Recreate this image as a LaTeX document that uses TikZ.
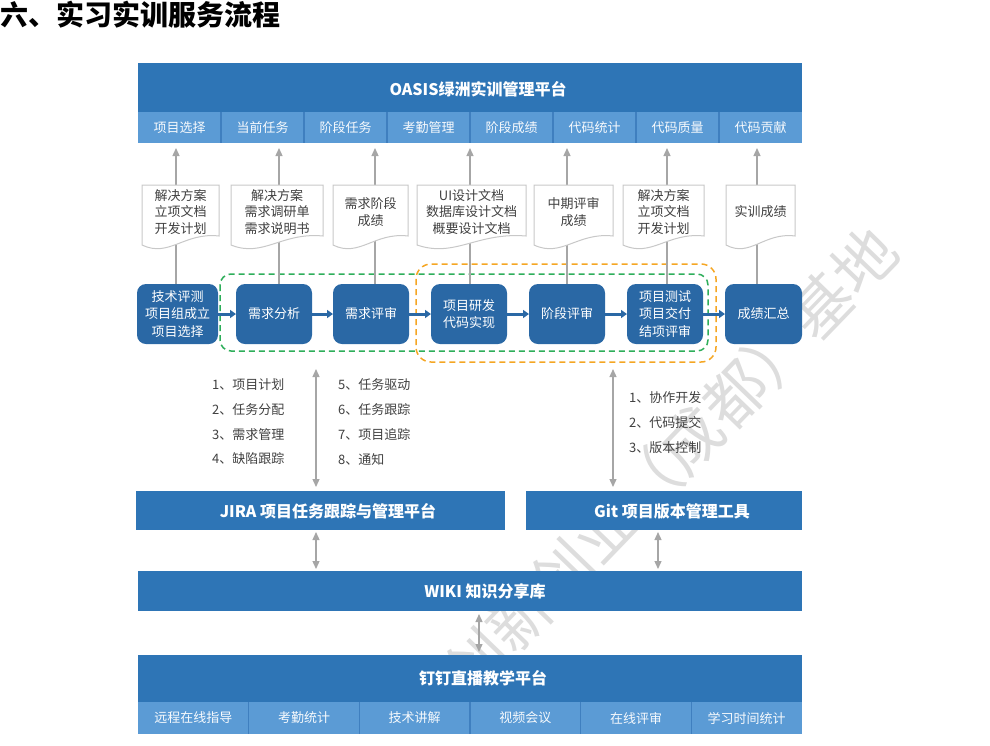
\documentclass[tikz,border=0pt]{standalone}
\usepackage{fontspec}
\setmainfont{Noto Sans CJK SC}
\usetikzlibrary{arrows.meta}
\definecolor{barblue}{HTML}{2E75B6}
\definecolor{lightblue}{HTML}{5B9BD5}
\definecolor{divblue}{HTML}{3F7FBF}
\definecolor{boxblue}{HTML}{2A68A5}
\definecolor{greyline}{HTML}{A6A6A6}
\definecolor{doctext}{HTML}{404040}
\definecolor{docborder}{HTML}{C8C8C8}
\definecolor{dashgreen}{HTML}{2EAE5A}
\definecolor{dashorange}{HTML}{F5A623}
\definecolor{wmark}{HTML}{DDDDDD}
\newcommand{\mydocshape}[4]{%
  \pgfmathsetmacro\dw{#3-#2}%
  \draw[docline] (#2,185) -- (#3,185) -- (#3,236)
     .. controls ({#3-0.45*\dw},232) and ({#2+0.35*\dw},258) .. (#2,245) -- cycle;
  \node[doctxt] (#1) at ({(#2+#3)/2},212) {#4};
}
\begin{document}
\begin{tikzpicture}[x=1pt,y=-1pt,
  darkbar/.style={fill=barblue,inner sep=0,outer sep=0},
  cell/.style={fill=lightblue,inner sep=0,outer sep=0,text=white!95!lightblue,font=\fontsize{13}{15}\selectfont},
  bartitle/.style={text=white,inner sep=0,font=\fontsize{16}{18}\selectfont\bfseries},
  divider/.style={draw=divblue,line width=1.2},
  pbox/.style={fill=boxblue,rounded corners=9,inner sep=0,outer sep=0,minimum width=76,minimum height=60,
     text=white,align=center,font=\fontsize{13}{17.5}\selectfont},
  parrow/.style={draw=boxblue,line width=3,-{Triangle[width=8pt,length=6pt]}},
  docline/.style={draw=docborder,fill=white,line width=1},
  doctxt/.style={text=doctext,align=center,inner sep=0,font=\fontsize{13}{16.5}\selectfont},
  garrow/.style={draw=greyline,line width=1.3,-{Triangle[width=7pt,length=8pt]}},
  gdarrow/.style={draw=greyline,line width=1.3,{Triangle[width=7pt,length=8pt]}-{Triangle[width=7pt,length=8pt]}},
  listtxt/.style={text=doctext,align=left,inner sep=0,anchor=west,font=\fontsize{13}{24.7}\selectfont},
  dashbox/.style={line width=1.5,dash pattern=on 6pt off 4pt}
]
\useasboundingbox (0,0) rectangle (990,745);

% watermark
\node[text=wmark,rotate=46,inner sep=0,font=\fontsize{62}{62}\selectfont] (wm) at (670,462) {创新创业（成都）基地};

% title
\node[anchor=west,inner sep=0,font=\fontsize{28}{30}\selectfont\bfseries] (title) at (0,15) {六、实习实训服务流程};

% top platform
\node[darkbar,minimum width=664,minimum height=49] (oasis) at (470,87.5) {};
\node[bartitle] (oasist) at (478,89) {OASIS绿洲实训管理平台};
\foreach \i/\t in {1/项目选择,2/当前任务,3/阶段任务,4/考勤管理,5/阶段成绩,6/代码统计,7/代码质量,8/代码贡献}{
  \node[cell,minimum width=83,minimum height=31] (top\i) at ({138+83*(\i-0.5)},127.5) {\t};
}
\foreach \i in {1,...,7}{\draw[divider] (top\i.north east) -- (top\i.south east);}

% dashed groups
\draw[dashbox,draw=dashorange,rounded corners=15] (416,264) rectangle (716,362);
\draw[dashbox,draw=dashgreen,rounded corners=11] (220,274) rectangle (708,351);

% process boxes
\node[pbox,minimum width=81] (b1) at (177.5,314) {技术评测\\项目组成立\\项目选择};
\node[pbox] (b2) at (274,314) {需求分析};
\node[pbox] (b3) at (371,314) {需求评审};
\node[pbox] (b4) at (469,314) {项目研发\\代码实现};
\node[pbox] (b5) at (567,314) {阶段评审};
\node[pbox] (b6) at (665,314) {项目测试\\项目交付\\结项评审};
\node[pbox,minimum width=77] (b7) at (763.5,314) {成绩汇总};

\draw[parrow] (b1) -- (b2);
\draw[parrow] (b2) -- (b3);
\draw[parrow] (b3) -- (b4);
\draw[parrow] (b4) -- (b5);
\draw[parrow] (b5) -- (b6);
\draw[parrow] (b6) -- (b7);

% vertical lines to top platform
\coordinate (t1) at (176,143);
\coordinate (t2) at (279,143);
\coordinate (t3) at (375,143);
\coordinate (t4) at (470,143);
\coordinate (t5) at (567,143);
\coordinate (t6) at (667,143);
\coordinate (t7) at (757,143);
\foreach \i in {1,...,7}{\draw[garrow,shorten >=5pt] (b\i.north -| t\i) -- (t\i);}

% documents
\mydocshape{d1}{142}{219}{解决方案\\立项文档\\开发计划}
\mydocshape{d2}{231}{323}{解决方案\\需求调研单\\需求说明书}
\mydocshape{d3}{333}{408}{需求阶段\\成绩}
\mydocshape{d4}{417}{526}{UI设计文档\\数据库设计文档\\概要设计文档}
\mydocshape{d5}{534}{613}{中期评审\\成绩}
\mydocshape{d6}{623}{704}{解决方案\\立项文档\\开发计划}
\mydocshape{d7}{726}{795}{实训成绩}

% JIRA / Git
\node[darkbar,minimum width=369,minimum height=39] (jira) at (320.5,510.5) {};
\node[bartitle] (jirat) at (328,511) {JIRA 项目任务跟踪与管理平台};
\node[darkbar,minimum width=276,minimum height=39] (git) at (664,510.5) {};
\node[bartitle] (gitt) at (672,511) {Git 项目版本管理工具};

% lists
\node[listtxt] (la) at (212,422) {1、项目计划\\2、任务分配\\3、需求管理\\4、缺陷跟踪};
\node[listtxt] (lb) at (338,422) {5、任务驱动\\6、任务跟踪\\7、项目追踪\\8、通知};
\node[listtxt] (lc) at (629,422.5) {1、协作开发\\2、代码提交\\3、版本控制};

\coordinate (l1) at (316,369);
\coordinate (l2) at (613,369);
\draw[gdarrow,shorten <=4pt] (jira.north -| l1) -- (l1);
\draw[gdarrow,shorten <=4pt] (git.north -| l2) -- (l2);

% WIKI
\node[darkbar,minimum width=664,minimum height=40] (wiki) at (470,591) {};
\node[bartitle] (wikit) at (485,591) {WIKI 知识分享库};

\coordinate (x1) at (316,550);
\coordinate (x2) at (658,550);
\coordinate (x3) at (479,633);
\draw[gdarrow,shorten <=2pt,shorten >=2pt] (jira.south -| x1) -- (wiki.north -| x1);
\draw[gdarrow,shorten <=2pt,shorten >=2pt] (git.south -| x2) -- (wiki.north -| x2);

% Dingding
\node[darkbar,minimum width=664,minimum height=47] (ding) at (470,678.5) {};
\node[bartitle] (dingt) at (483,678) {钉钉直播教学平台};
\draw[gdarrow,shorten <=3pt,shorten >=3pt] (wiki.south -| x3) -- (ding.north -| x3);

\foreach \i/\t in {1/远程在线指导,2/考勤统计,3/技术讲解,4/视频会议,5/在线评审,6/学习时间统计}{
  \node[cell,minimum width=110.667,minimum height=32] (bot\i) at ({138+110.667*(\i-0.5)},718) {\t};
}
\foreach \i in {1,...,5}{\draw[divider] (bot\i.north east) -- (bot\i.south east);}
\end{tikzpicture}
\end{document}
